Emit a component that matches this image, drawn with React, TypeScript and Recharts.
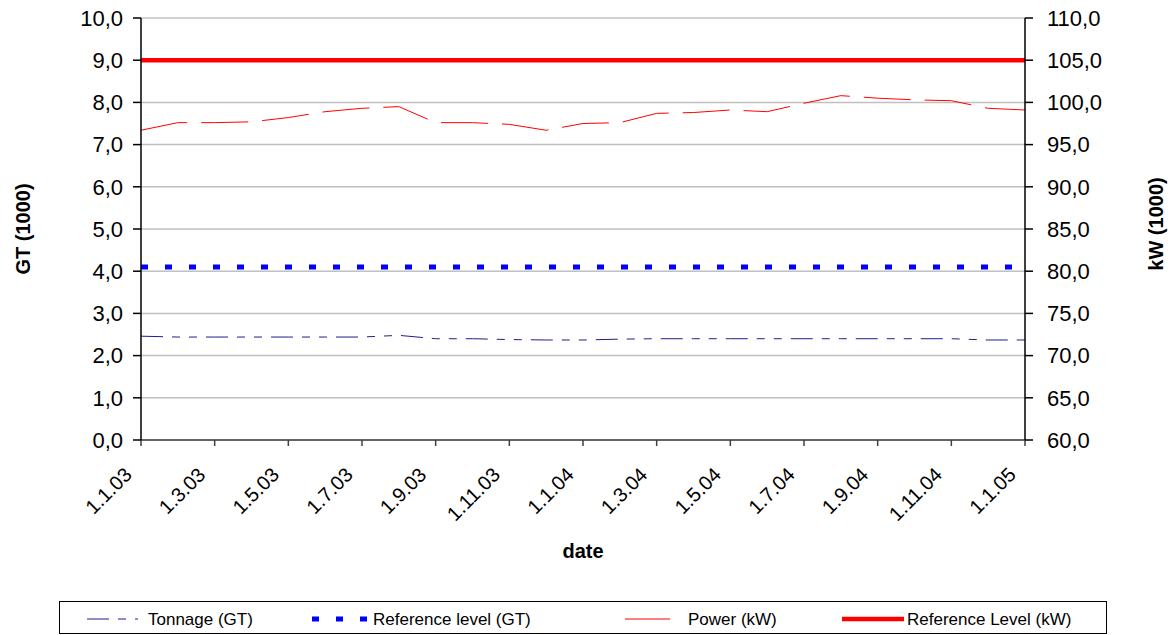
import React from "react";
import {
  LineChart,
  Line,
  XAxis,
  YAxis,
  CartesianGrid,
} from "recharts";

// monthly dates, first of each month
const dates = [
  "1.1.03", "1.2.03", "1.3.03", "1.4.03", "1.5.03", "1.6.03", "1.7.03",
  "1.8.03", "1.9.03", "1.10.03", "1.11.03", "1.12.03",
  "1.1.04", "1.2.04", "1.3.04", "1.4.04", "1.5.04", "1.6.04", "1.7.04",
  "1.8.04", "1.9.04", "1.10.04", "1.11.04", "1.12.04", "1.1.05",
];

// GT (1000)
const tonnage = [
  2.46, 2.44, 2.44, 2.44, 2.44, 2.44, 2.44, 2.48, 2.4, 2.4, 2.38, 2.37,
  2.37, 2.39, 2.4, 2.4, 2.4, 2.4, 2.4, 2.4, 2.4, 2.4, 2.4, 2.37, 2.37,
];

// kW (1000)
const power = [
  96.7, 97.6, 97.6, 97.7, 98.2, 98.9, 99.3, 99.5, 97.6, 97.6, 97.4, 96.7,
  97.5, 97.6, 98.7, 98.8, 99.1, 98.9, 99.9, 100.8, 100.5, 100.3, 100.2,
  99.3, 99.1,
];

const refLevelGT = 4.1;
const refLevelKW = 105;

const gtTicks = [0, 1, 2, 3, 4, 5, 6, 7, 8, 9, 10];
const kwTicks = [60, 65, 70, 75, 80, 85, 90, 95, 100, 105, 110];

const data = dates.map((date, i) => ({
  date,
  tonnage: tonnage[i],
  refGT: refLevelGT,
  power: power[i],
  refKW: refLevelKW,
}));

const fmt = (v: number) => v.toFixed(1).replace(".", ",");

const TONNAGE_DASH = "22 9 8 9 8 9";
const REF_GT_DASH = "7 17";
const POWER_DASH = "47 14";

const DateTick = (props: any) => {
  const { x, y, payload } = props;
  const ax = x - 8;
  const ay = y + 30;
  return (
    <text
      x={ax}
      y={ay}
      transform={`rotate(-45 ${ax} ${ay})`}
      textAnchor="end"
      fontSize={20}
      fill="#000"
    >
      {payload.value}
    </text>
  );
};

function LegendBox() {
  return (
    <div
      style={{
        position: "absolute",
        left: 59,
        top: 601,
        width: 1046,
        height: 31,
        border: "1px solid #000",
        background: "#fff",
      }}
    >
      <svg width={1046} height={31} style={{ display: "block" }}>
        <g transform="translate(-60,-602)">
          <line x1={87} x2={138} y1={619} y2={619} stroke="#1f1f8a" strokeWidth={1} strokeDasharray={TONNAGE_DASH} />
          <text x={148} y={619} dominantBaseline="central" fontSize={17}>Tonnage (GT)</text>
          <line x1={312} x2={368} y1={619} y2={619} stroke="#0000ff" strokeWidth={5} strokeDasharray={REF_GT_DASH} />
          <text x={373} y={619} dominantBaseline="central" fontSize={17}>Reference level (GT)</text>
          <line x1={625} x2={670} y1={619} y2={619} stroke="#ff0000" strokeWidth={1} />
          <text x={688} y={619} dominantBaseline="central" fontSize={17}>Power (kW)</text>
          <line x1={842} x2={904} y1={619} y2={619} stroke="#ff0000" strokeWidth={4.5} />
          <text x={907} y={619} dominantBaseline="central" fontSize={17}>Reference Level (kW)</text>
        </g>
      </svg>
    </div>
  );
}

export default function App() {
  return (
    <div
      style={{
        position: "fixed",
        left: 0,
        top: 0,
        width: 1176,
        height: 635,
        background: "#fff",
        fontFamily: "'Liberation Sans', Arial, sans-serif",
      }}
    >
      <LineChart
        width={1176}
        height={635}
        data={data}
        margin={{ top: 18, right: 0, bottom: 0, left: 0 }}
      >
        <CartesianGrid yAxisId="left" vertical={false} stroke="#c0c0c0" strokeWidth={1.5} />
        <XAxis
          dataKey="date"
          interval={1}
          height={195}
          tickSize={6}
          tickMargin={0}
          tick={<DateTick />}
          axisLine={{ stroke: "#404040", strokeWidth: 1.5 }}
          tickLine={{ stroke: "#404040", strokeWidth: 1.5 }}
          label={{
            content: () => (
              <text x={583} y={558} textAnchor="middle" fontSize={20} fontWeight="bold" fill="#000">
                date
              </text>
            ),
          }}
        />
        <YAxis
          yAxisId="left"
          width={141}
          domain={[0, 10]}
          ticks={gtTicks}
          tickFormatter={fmt}
          tickSize={8}
          tickMargin={10}
          tick={{ fontSize: 22, fill: "#000" }}
          axisLine={{ stroke: "#000", strokeWidth: 1.5 }}
          tickLine={{ stroke: "#000", strokeWidth: 1.5 }}
          label={{
            content: () => (
              <text
                x={23}
                y={229}
                transform="rotate(-90 23 229)"
                textAnchor="middle"
                dominantBaseline="central"
                fontSize={20}
                fontWeight="bold"
                fill="#000"
              >
                GT (1000)
              </text>
            ),
          }}
        />
        <YAxis
          yAxisId="right"
          orientation="right"
          width={151}
          domain={[60, 110]}
          ticks={kwTicks}
          tickFormatter={fmt}
          tickSize={8}
          tickMargin={14}
          tick={{ fontSize: 22, fill: "#000" }}
          axisLine={{ stroke: "#000", strokeWidth: 1.5 }}
          tickLine={{ stroke: "#000", strokeWidth: 1.5 }}
          label={{
            content: () => (
              <text
                x={1156}
                y={224}
                transform="rotate(-90 1156 224)"
                textAnchor="middle"
                dominantBaseline="central"
                fontSize={20}
                fontWeight="bold"
                fill="#000"
              >
                kW (1000)
              </text>
            ),
          }}
        />
        <Line
          yAxisId="left"
          dataKey="tonnage"
          type="linear"
          stroke="#1f1f8a"
          strokeWidth={1}
          strokeDasharray={TONNAGE_DASH}
          dot={false}
          isAnimationActive={false}
        />
        <Line
          yAxisId="left"
          dataKey="refGT"
          type="linear"
          stroke="#0000ff"
          strokeWidth={5}
          strokeDasharray={REF_GT_DASH}
          dot={false}
          isAnimationActive={false}
        />
        <Line
          yAxisId="right"
          dataKey="power"
          type="linear"
          stroke="#ff0000"
          strokeWidth={1}
          strokeDasharray={POWER_DASH}
          dot={false}
          isAnimationActive={false}
        />
        <Line
          yAxisId="right"
          dataKey="refKW"
          type="linear"
          stroke="#ff0000"
          strokeWidth={4.5}
          dot={false}
          isAnimationActive={false}
        />
      </LineChart>
      <LegendBox />
    </div>
  );
}
